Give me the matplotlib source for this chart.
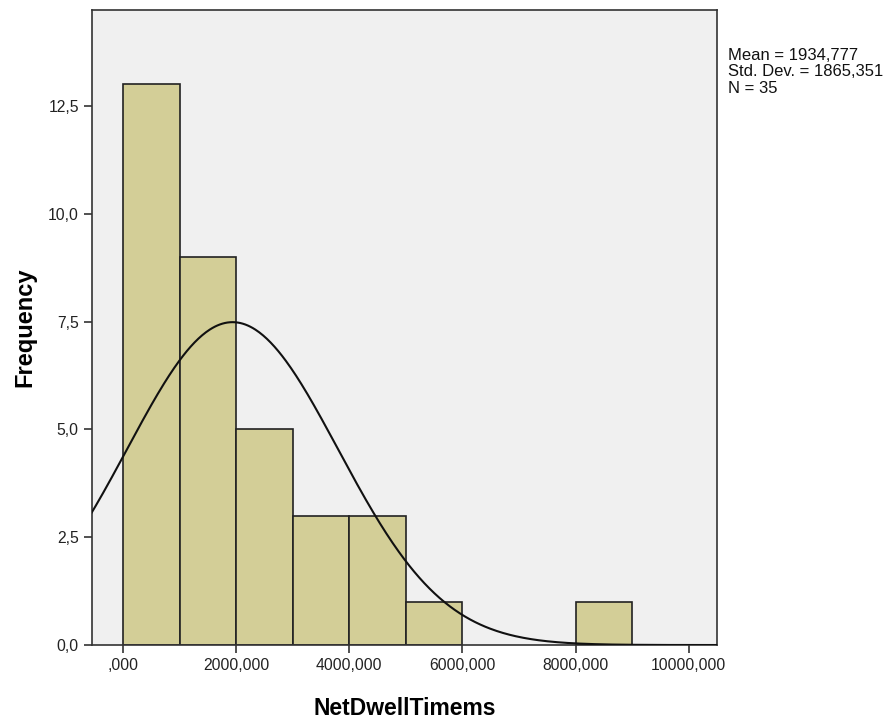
import numpy as np
import matplotlib.pyplot as plt
from matplotlib.ticker import FuncFormatter

# Histogram data (bin edges in ms, counts)
bin_left = [0, 1000, 2000, 3000, 4000, 5000, 8000]
counts = [13, 9, 5, 3, 3, 1, 1]
bin_width = 1000
mean = 1934.777
std = 1865.351
n = 35

xticks = [0, 2000, 4000, 6000, 8000, 10000]
yticks = [0, 2.5, 5, 7.5, 10, 12.5]

plt.rcParams['font.family'] = ['Liberation Sans', 'DejaVu Sans']

fig = plt.figure(figsize=(8.89, 7.22), dpi=100)
ax = fig.add_axes([0.1035, 0.1066, 0.703, 0.88])
ax.set_facecolor('#f0f0f0')

ax.bar(bin_left, counts, width=bin_width, align='edge',
       color='#d3ce97', edgecolor='#222222', linewidth=1.2, zorder=2)

# normal curve scaled to counts
xs = np.linspace(-600, 10600, 500)
ys = n * bin_width * np.exp(-0.5 * ((xs - mean) / std) ** 2) / (std * np.sqrt(2 * np.pi))
ax.plot(xs, ys, color='#111111', linewidth=1.5, zorder=3)

ax.set_xlim(-550, 10500)
ax.set_ylim(0, 14.73)
ax.set_xticks(xticks)
ax.set_yticks(yticks)


def fmt_x(v, pos):
    s = '%.3f' % v
    s = s.replace('.', ',')
    if s.startswith('0,'):
        s = s[1:]
    return s


ax.xaxis.set_major_formatter(FuncFormatter(fmt_x))
ax.yaxis.set_major_formatter(FuncFormatter(lambda v, p: ('%.1f' % v).replace('.', ',')))

ax.tick_params(direction='out', length=6, width=1.2, color='#333333',
               labelsize=11.3, labelcolor='#222222')
for sp in ax.spines.values():
    sp.set_color('#333333')
    sp.set_linewidth(1.2)

ax.set_xlabel('NetDwellTimems', fontsize=16.5, fontweight='bold', labelpad=17)
ax.set_ylabel('Frequency', fontsize=17, fontweight='bold', labelpad=8)

fig.text(0.819, 0.934, 'Mean = 1934,777\nStd. Dev. = 1865,351\nN = 35',
         fontsize=12, va='top', ha='left', linespacing=1.12, color='#111111')

fig.savefig('out.png', dpi=100)
